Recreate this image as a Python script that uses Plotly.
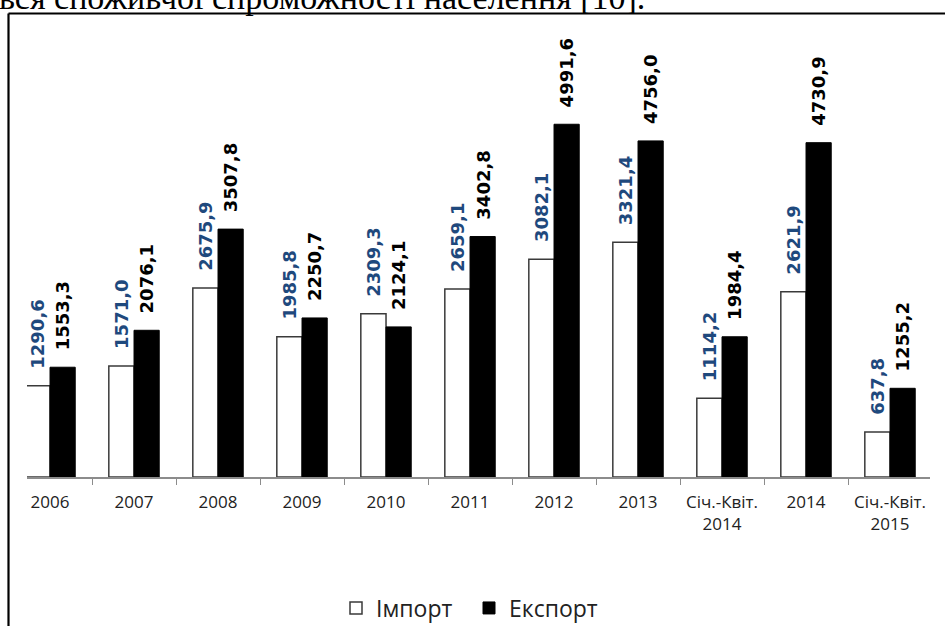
import plotly.graph_objects as go

categories = ["2006", "2007", "2008", "2009", "2010", "2011", "2012", "2013",
              "Січ.-Квіт.<br>2014", "2014", "Січ.-Квіт.<br>2015"]
import_vals = [1290.6, 1571.0, 2675.9, 1985.8, 2309.3, 2659.1, 3082.1, 3321.4, 1114.2, 2621.9, 637.8]
export_vals = [1553.3, 2076.1, 3507.8, 2250.7, 2124.1, 3402.8, 4991.6, 4756.0, 1984.4, 4730.9, 1255.2]
series_names = ["Імпорт", "Експорт"]
header_text = "вся споживчої спроможності населення [10]."

def fmt(v):
    return f"{v:.1f}".replace(".", ",")

W, H = 945, 626
L, R, T, B = 27, 15, 53, 149
pw, ph = W - L - R, H - T - B

def px_x(px):
    return (px - L) / pw

def px_y(py):
    return (H - B - py) / ph

fig = go.Figure()
fig.add_trace(go.Bar(
    x=categories, y=import_vals, name=series_names[0],
    marker=dict(color="white", line=dict(color="#3a3a3a", width=1.5)),
))
fig.add_trace(go.Bar(
    x=categories, y=export_vals, name=series_names[1],
    marker=dict(color="black", line=dict(color="black", width=1)),
))

annotations = []
for i, (vi, ve) in enumerate(zip(import_vals, export_vals)):
    annotations.append(dict(x=i, y=vi, xref="x", yref="y", text=fmt(vi), showarrow=False,
                            textangle=-90, xanchor="center", yanchor="bottom",
                            xshift=-12.6, yshift=15,
                            font=dict(family="DejaVu Sans", size=18, color="#1F497D", weight="bold")))
    annotations.append(dict(x=i, y=ve, xref="x", yref="y", text=fmt(ve), showarrow=False,
                            textangle=-90, xanchor="center", yanchor="bottom",
                            xshift=12.6, yshift=15,
                            font=dict(family="DejaVu Sans", size=18, color="black", weight="bold")))

annotations.append(dict(x=px_x(-3), y=px_y(-2), xref="paper", yref="paper", text=header_text,
                        showarrow=False, xanchor="left", yanchor="middle",
                        font=dict(family="Liberation Serif, Times New Roman, serif", size=34, color="black")))

shapes = [
    dict(type="line", xref="paper", yref="paper", x0=px_x(8.5), y0=px_y(13.5), x1=px_x(950), y1=px_y(13.5),
         line=dict(color="black", width=2.2)),
    dict(type="line", xref="paper", yref="paper", x0=px_x(8.5), y0=px_y(13.5), x1=px_x(8.5), y1=px_y(640),
         line=dict(color="black", width=2.2)),
]

fig.update_layout(
    width=W, height=H, autosize=False,
    margin=dict(l=L, r=R, t=T, b=B, pad=0, autoexpand=False),
    paper_bgcolor="white", plot_bgcolor="white",
    barmode="group", bargap=0.4, bargroupgap=0,
    showlegend=True,
    legend=dict(orientation="h", x=px_x(336), xanchor="left", y=px_y(608), yanchor="middle",
                font=dict(family="Open Sans", size=23, color="#222"),
                entrywidth=88, entrywidthmode="pixels",
                traceorder="normal", bgcolor="rgba(0,0,0,0)"),
    xaxis=dict(type="category", range=[-0.274, 10.476], showline=True, linecolor="#8c8c8c", linewidth=1.5,
               ticks="outside", tickson="boundaries", ticklen=6, tickcolor="#8c8c8c", tickwidth=1,
               ticklabelstandoff=9, automargin=False,
               showgrid=False, zeroline=False,
               tickfont=dict(family="Open Sans", size=17, color="#222")),
    yaxis=dict(range=[0, 6000], visible=False, showgrid=False, zeroline=False, automargin=False),
    annotations=annotations, shapes=shapes,
)

fig.write_html("out.html",
               config={"staticPlot": True, "responsive": False, "displayModeBar": False},
               post_script="document.body.style.margin='0';document.body.style.overflow='hidden';")
